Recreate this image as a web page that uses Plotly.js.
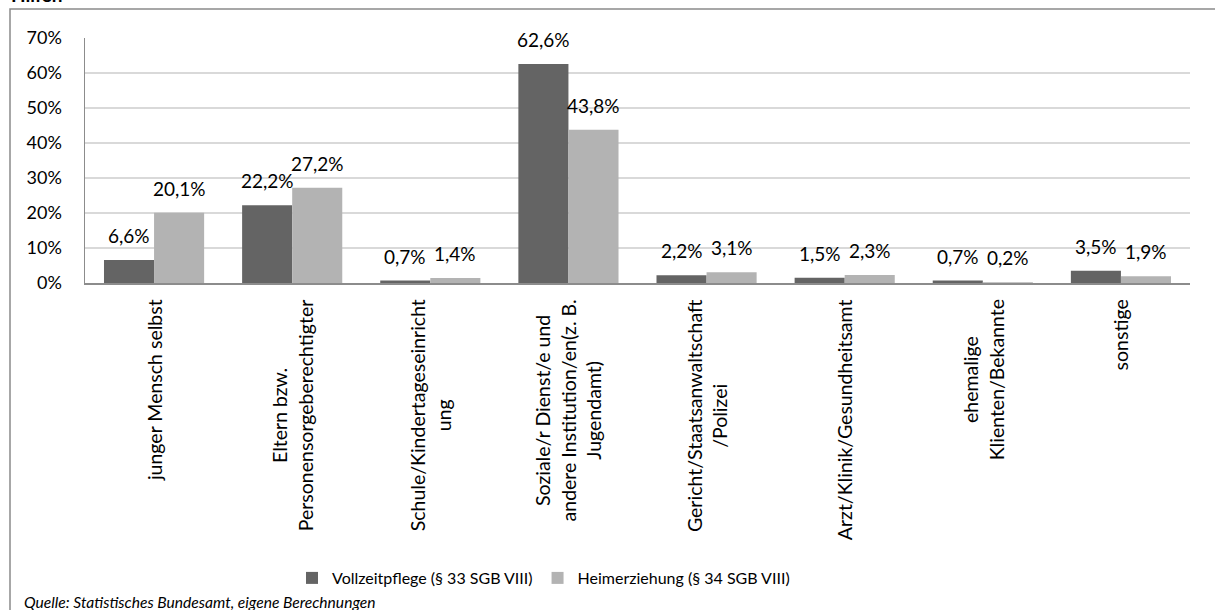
<!DOCTYPE html>
<html>
<head>
<meta charset="utf-8">
<script src="https://cdn.plot.ly/plotly-3.0.1.min.js"></script>
<style>html,body{margin:0;padding:0;background:#fff;}#chart{width:1215px;height:610px;}</style>
</head>
<body>
<div id="chart"></div>
<script>
var categories = [
  "junger Mensch selbst",
  "Eltern bzw.<br>Personensorgeberechtigter",
  "Schule/Kindertageseinricht<br>ung",
  "Soziale/r Dienst/e und<br>andere Institution/en(z. B.<br>Jugendamt)",
  "Gericht/Staatsanwaltschaft<br>/Polizei",
  "Arzt/Klinik/Gesundheitsamt",
  "ehemalige<br>Klienten/Bekannte",
  "sonstige"
];
var vollzeitpflege = [6.6, 22.2, 0.7, 62.6, 2.2, 1.5, 0.7, 3.5];
var heimerziehung = [20.1, 27.2, 1.4, 43.8, 3.1, 2.3, 0.2, 1.9];
var seriesNames = ["Vollzeitpflege (§ 33 SGB VIII)", "Heimerziehung (§ 34 SGB VIII)"];
var yTickValues = [0, 10, 20, 30, 40, 50, 60, 70];
var yTickLabels = ["0%", "10%", "20%", "30%", "40%", "50%", "60%", "70%"];
var sourceNote = "Quelle: Statistisches Bundesamt, eigene Berechnungen";
var headingFragment = "Hilfen";

var FONT = "Lato, 'Open Sans', sans-serif";
var W = 1215, H = 610;
var M = {l: 85, r: 25, t: 38, b: 327};
var plotH = H - M.t - M.b, plotW = W - M.l - M.r;
function py(px) { return (H - M.b - px) / plotH; }   // pixel y -> paper y
function px_(px) { return (px - M.l) / plotW; }       // pixel x -> paper x

function fmt(v) { return v.toFixed(1).replace('.', ',') + '%'; }
var xs = categories.map(function (c, i) { return i; });

var traces = [
  {type: 'bar', name: seriesNames[0], x: xs, y: vollzeitpflege,
   marker: {color: '#646464'}, hoverinfo: 'none'},
  {type: 'bar', name: seriesNames[1], x: xs, y: heimerziehung,
   marker: {color: '#b3b3b3'}, hoverinfo: 'none'}
];

var annotations = [];
categories.forEach(function (c, i) {
  annotations.push({xref: 'x', yref: 'paper', x: i, y: py(297), text: c,
    textangle: -90, xanchor: 'center', yanchor: 'top', align: 'center',
    showarrow: false, font: {family: FONT, size: 19.5, color: '#000'}});
  annotations.push({xref: 'x', yref: 'y', x: i, y: vollzeitpflege[i], text: fmt(vollzeitpflege[i]),
    xshift: -25, yshift: 11, xanchor: 'center', yanchor: 'bottom', showarrow: false,
    font: {family: FONT, size: 19, color: '#000'}});
  annotations.push({xref: 'x', yref: 'y', x: i, y: heimerziehung[i], text: fmt(heimerziehung[i]),
    xshift: 25, yshift: 11, xanchor: 'center', yanchor: 'bottom', showarrow: false,
    font: {family: FONT, size: 19, color: '#000'}});
});
annotations.push({xref: 'paper', yref: 'paper', x: px_(22), y: py(602), text: sourceNote,
  xanchor: 'left', yanchor: 'middle', showarrow: false,
  font: {family: FONT, size: 15.6, color: '#000', style: 'italic'}});
annotations.push({xref: 'paper', yref: 'paper', x: px_(9), y: py(8), text: '<b>' + headingFragment + '</b>',
  xanchor: 'left', yanchor: 'bottom', showarrow: false,
  font: {family: FONT, size: 19, color: '#000'}});

var layout = {
  width: W, height: H,
  margin: M,
  paper_bgcolor: '#fff', plot_bgcolor: '#fff',
  barmode: 'group', bargap: 0.275, bargroupgap: 0,
  font: {family: FONT, size: 18, color: '#000'},
  xaxis: {type: 'linear', range: [-0.5, categories.length - 0.5], showticklabels: false,
    showgrid: false, zeroline: false, showline: true, linecolor: '#8c8c8c', linewidth: 1.5,
    ticks: '', fixedrange: true},
  yaxis: {range: [0, 70], tickvals: yTickValues, ticktext: yTickLabels,
    showgrid: true, gridcolor: '#d9d9d9', gridwidth: 1.5, zeroline: false,
    showline: true, linecolor: '#8c8c8c', linewidth: 1.5, ticks: '',
    ticklabelstandoff: 18, tickfont: {family: FONT, size: 18, color: '#000'}, fixedrange: true},
  showlegend: true,
  legend: {orientation: 'h', x: px_(292), xanchor: 'left', y: py(578), yanchor: 'middle',
    font: {family: FONT, size: 16, color: '#000'}, itemclick: false, itemdoubleclick: false,
    bgcolor: 'rgba(0,0,0,0)', traceorder: 'normal'},
  shapes: [{type: 'rect', xref: 'paper', yref: 'paper',
    x0: px_(10), x1: px_(1222), y0: py(640), y1: py(9),
    line: {color: '#8a8a8a', width: 1.5}, fillcolor: 'rgba(0,0,0,0)', layer: 'below'}],
  annotations: annotations
};

Plotly.newPlot('chart', traces, layout, {displayModeBar: false, staticPlot: true});
</script>
</body>
</html>
